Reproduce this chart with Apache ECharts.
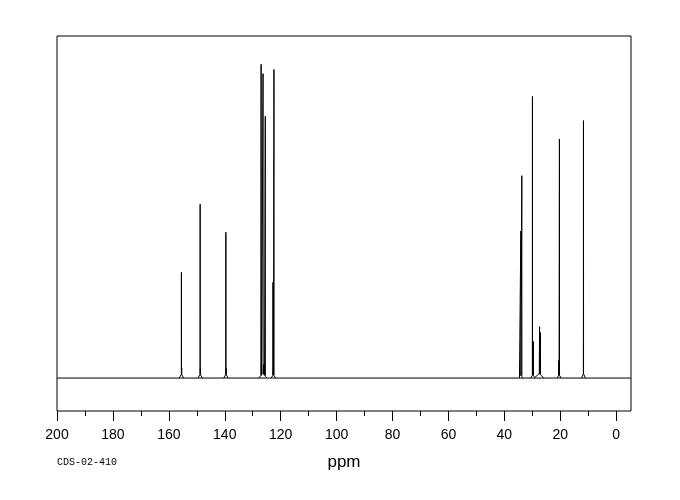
<!DOCTYPE html>
<html>
<head>
<meta charset="utf-8">
<script src="https://cdn.jsdelivr.net/npm/echarts@6/dist/echarts.min.js"></script>
<style>
html,body{margin:0;padding:0;background:#fff;}
#chart{width:680px;height:500px;}
</style>
</head>
<body>
<div id="chart"></div>
<script>
// Main peaks (ppm, relative intensity, tallest = 100)
const peakPpm    = [155.5, 148.8, 139.6, 127.0, 126.3, 125.5, 122.75, 122.4, 34.1, 33.75, 29.95, 29.6, 27.4, 27.1, 20.6, 20.3, 11.7];
const peakHeight = [32.8, 54.7, 45.7, 100, 96.5, 83.6, 29.9, 98.4, 46.6, 64.6, 89.7, 10.9, 15.1, 13.5, 4.8, 75.9, 81.4];
// Small lines at the base of the peaks
const smallPpm    = [155.4, 148.7, 139.5, 126.85, 126.05, 125.8, 122.6, 29.8, 27.25, 20.45];
const smallHeight = [2.2, 2.0, 2.0, 3.6, 3.2, 2.8, 1.5, 1.5, 2.5, 1.2];
// Broad low humps under the peaks (ppm, height, half width in ppm)
const humpPpm    = [155.5, 148.8, 139.6, 126.4, 122.6, 34.0, 29.8, 27.5, 20.4, 11.7];
const humpHeight = [1.2, 1.2, 1.2, 1.5, 1.1, 0.8, 1.1, 1.5, 1.1, 1.4];
const humpWidth  = [0.8, 0.8, 0.8, 1.5, 0.8, 0.6, 0.8, 1.6, 0.7, 0.7];
// Axis
const xMax = 200, xMin = -5.3;
const yMin = -10.6, yMax = 110;
const majorTicks = [0, 20, 40, 60, 80, 100, 120, 140, 160, 180, 200];
const minorTicks = [10, 30, 50, 70, 90, 110, 130, 150, 170, 190];
const axisTitle = 'ppm';
const sampleId = 'CDS-02-410';

// Stick spectrum: sum of narrow triangles at each line position
const spikeHW = 0.03;
const feats = [];
peakPpm.forEach((p, i) => feats.push({p: p, h: peakHeight[i], w: spikeHW}));
smallPpm.forEach((p, i) => feats.push({p: p, h: smallHeight[i], w: spikeHW}));
humpPpm.forEach((p, i) => feats.push({p: p, h: humpHeight[i], w: humpWidth[i]}));
const xsSet = new Set();
feats.forEach(f => {
  xsSet.add(+(f.p - f.w).toFixed(4));
  xsSet.add(+f.p.toFixed(4));
  xsSet.add(+(f.p + f.w).toFixed(4));
});
const xs = Array.from(xsSet).sort((a, b) => b - a);
const pts = xs.map(x => {
  let y = 0;
  feats.forEach(f => {
    const d = Math.abs(x - f.p);
    if (d < f.w - 1e-6) y += f.h * (1 - d / f.w);
  });
  return [x, +y.toFixed(4)];
});
// split into separate peak groups; the flat baseline is its own series
const specData = [];
pts.forEach((pt, i) => {
  if (i > 0) {
    const prev = pts[i - 1];
    if (prev[1] === 0 && pt[1] === 0 && prev[0] - pt[0] > 1) specData.push(['-', '-']);
  }
  specData.push(pt);
});
const baseData = [[xMax, 0], [xMin, 0]];

const chart = echarts.init(document.getElementById('chart'), null, {renderer: 'canvas'});
chart.setOption({
  animation: false,
  backgroundColor: '#fff',
  grid: {left: 57, top: 36, width: 574, height: 375, show: true, borderColor: '#000', borderWidth: 1, backgroundColor: 'transparent'},
  xAxis: [{
    type: 'value', inverse: true, min: xMin, max: xMax, position: 'bottom',
    axisLine: {show: false, onZero: false},
    splitLine: {show: false},
    axisTick: {show: true, inside: false, length: 10, lineStyle: {color: '#000', width: 1}, customValues: majorTicks},
    axisLabel: {show: true, margin: 17, color: '#000', fontSize: 14, fontFamily: 'Liberation Sans', customValues: majorTicks},
    name: axisTitle, nameLocation: 'middle', nameGap: 43,
    nameTextStyle: {color: '#000', fontSize: 17, fontFamily: 'Liberation Sans'}
  }, {
    type: 'value', inverse: true, min: xMin, max: xMax, position: 'bottom', offset: 0,
    axisLine: {show: false, onZero: false},
    splitLine: {show: false},
    axisTick: {show: true, inside: false, length: 5, lineStyle: {color: '#000', width: 1}, customValues: minorTicks},
    axisLabel: {show: false}
  }],
  yAxis: {
    type: 'value', min: yMin, max: yMax, show: false, splitLine: {show: false}
  },
  graphic: [{
    type: 'text', left: 57, top: 457,
    style: {text: sampleId, fill: '#000', font: '10px "Liberation Mono"'}
  }],
  series: [{
    type: 'line', xAxisIndex: 0, data: baseData, showSymbol: false, symbol: 'none',
    clip: true, lineStyle: {color: '#000', width: 1}
  }, {
    type: 'line', xAxisIndex: 0, data: specData, showSymbol: false, symbol: 'none',
    sampling: null, smooth: false, clip: true, connectNulls: false,
    lineStyle: {color: '#000', width: 1}
  }]
});
</script>
</body>
</html>
